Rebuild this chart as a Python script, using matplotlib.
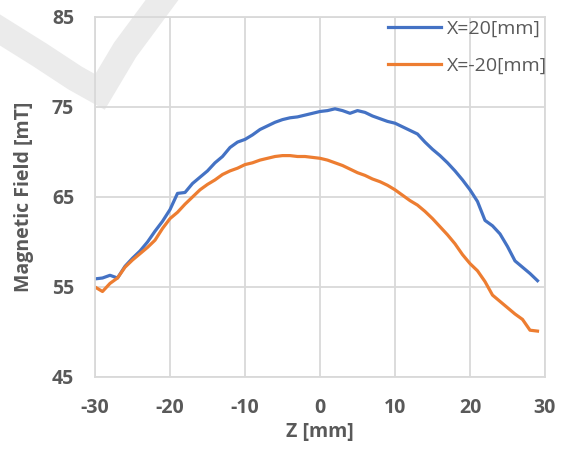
import matplotlib.pyplot as plt
from matplotlib.lines import Line2D

# Z position [mm]
z_mm = list(range(-30, 30))

# X=20[mm]
field_x20 = [55.9, 56.0, 56.3, 56.0, 57.3, 58.2, 59.0, 60.0, 61.2, 62.3,
             63.6, 65.4, 65.5, 66.5, 67.2, 67.9, 68.8, 69.5, 70.5, 71.1,
             71.4, 71.9, 72.5, 72.9, 73.3, 73.6, 73.8, 73.9, 74.1, 74.3,
             74.5, 74.6, 74.8, 74.6, 74.3, 74.6, 74.4, 74.0, 73.7, 73.4,
             73.2, 72.8, 72.4, 72.0, 71.1, 70.3, 69.6, 68.8, 67.9, 66.9,
             65.8, 64.5, 62.4, 61.8, 60.9, 59.5, 57.9, 57.2, 56.5, 55.7]

# X=-20[mm]
field_xm20 = [55.0, 54.5, 55.4, 56.0, 57.2, 58.0, 58.7, 59.4, 60.2, 61.5,
              62.6, 63.3, 64.2, 65.0, 65.8, 66.4, 66.9, 67.5, 67.9, 68.2,
              68.6, 68.8, 69.1, 69.3, 69.5, 69.6, 69.6, 69.5, 69.5, 69.4,
              69.3, 69.1, 68.8, 68.5, 68.1, 67.7, 67.4, 67.0, 66.7, 66.3,
              65.8, 65.2, 64.6, 64.1, 63.4, 62.6, 61.7, 60.8, 59.8, 58.6,
              57.6, 56.8, 55.6, 54.1, 53.4, 52.7, 52.0, 51.4, 50.2, 50.1]

labels = ['X=20[mm]', 'X=-20[mm]']
colors = ['#4472C4', '#ED7D31']
txt = '#595959'

plt.rcParams['font.family'] = ['Open Sans', 'DejaVu Sans']
plt.rcParams['axes.unicode_minus'] = False

W, H = 567, 450
fig = plt.figure(figsize=(W / 100, H / 100), dpi=100)

# faint watermark in the background
wm_x = [0, 40, 75, 100, 125, 162]
wm_y = [30, 55, 78, 92, 50, 0]
fig.add_artist(Line2D([x / W for x in wm_x], [1 - y / H for y in wm_y],
                      transform=fig.transFigure, color='#EBEBEB', lw=19,
                      solid_joinstyle='miter', zorder=-5))

ax = fig.add_axes([95 / W, 1 - 377 / H, 450 / W, 360 / H])
ax.set_facecolor('none')

ax.plot(z_mm, field_x20, color=colors[0], lw=2.3, label=labels[0])
ax.plot(z_mm, field_xm20, color=colors[1], lw=2.3, label=labels[1])

ax.set_xlim(-30, 30)
ax.set_ylim(45, 85)
ax.set_xticks(range(-30, 31, 10))
ax.set_yticks(range(45, 86, 10))
ax.grid(True, color='#D9D9D9', lw=1.3)
ax.set_axisbelow(True)
for s in ax.spines.values():
    s.set_color('#D9D9D9')
    s.set_linewidth(1.3)
ax.tick_params(length=0, pad=15, labelsize=14, labelcolor=txt)
for t in ax.get_xticklabels() + ax.get_yticklabels():
    t.set_fontweight('bold')

ax.set_xlabel('Z [mm]', fontsize=14, fontweight='bold', color=txt)
ax.set_ylabel('Magnetic Field [mT]', fontsize=14, fontweight='bold', color=txt)
ax.xaxis.set_label_coords(0.5, -0.125)
ax.yaxis.set_label_coords(-0.135, 0.5)

ax.legend(loc='upper left', bbox_to_anchor=(388 / W, 1 - 20 / H),
          bbox_transform=fig.transFigure, frameon=False, fontsize=14,
          labelcolor=txt, handlelength=2.7, handletextpad=0.35,
          labelspacing=0.95, borderpad=0, borderaxespad=0)

fig.savefig('out.png', dpi=100)
